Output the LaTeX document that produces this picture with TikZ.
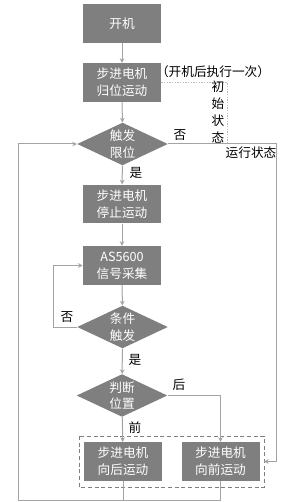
\documentclass[tikz,border=0pt]{standalone}
\usepackage{fontspec}
\setmainfont{Noto Sans CJK SC}
\usetikzlibrary{shapes.geometric,arrows.meta}
\definecolor{boxgray}{RGB}{127,127,127}
\definecolor{linegray}{RGB}{163,163,163}
\definecolor{dotgray}{RGB}{190,190,190}
\tikzset{
  stepbox/.style={rectangle, fill=boxgray, text=white, minimum width=58.5pt, minimum height=29pt,
    inner sep=0pt, align=center, font=\fontsize{9.5}{12.5}\selectfont},
  decide/.style={diamond, fill=boxgray, text=white, minimum width=68pt, minimum height=32pt,
    aspect=2.1, inner sep=0pt, align=center, font=\fontsize{9.5}{12.5}\selectfont},
  flow/.style={draw=linegray, line width=0.75pt, -{Stealth[length=3.5pt,width=3.5pt]}},
  plain/.style={draw=linegray, line width=0.75pt},
  note/.style={inner sep=0.75pt, font=\fontsize{9.5}{12.75}\selectfont, align=center}
}
\begin{document}
\begin{tikzpicture}[x=0.75pt,y=0.75pt,yscale=-1,xscale=1]
  \useasboundingbox (0,0) rectangle (294,502);
  % main column
  \node [stepbox] (start) at (122,23.5) {开机};
  \node [stepbox] (home) at (122,82.5) {步进电机\\归位运动};
  \node [decide] (limit) at (122.5,144) {触发\\限位};
  \node [stepbox] (stop) at (122,204) {步进电机\\停止运动};
  \node [stepbox] (sample) at (122,265.5) {AS5600\\信号采集};
  \node [decide] (cond) at (122.5,327) {条件\\触发};
  \node [decide] (pos) at (122,395.5) {判断\\位置};
  \node [stepbox] (back) at (123,461.5) {步进电机\\向后运动};
  \node [stepbox] (fwd) at (220.5,461.5) {步进电机\\向前运动};
  % dashed group
  \draw [boxgray, line width=0.75pt, dash pattern={on 3pt off 2pt}] (79,436) rectangle (264,487);
  \coordinate (grp) at (264,461.5);
  % bend points
  \coordinate (ca) at (53,327);
  \coordinate (cb) at (53,265.5);
  \coordinate (pa) at (220.5,395.5);
  \coordinate (ba) at (123,500);
  \coordinate (fa) at (220.5,500);
  \coordinate (la) at (18,500);
  \coordinate (lb) at (18,144);
  \coordinate (ra) at (276,144);
  \coordinate (rb) at (276,461.5);
  \coordinate (ha) at (227,82.5);
  \coordinate (hb) at (227,144);
  % connectors
  \draw [flow] (start) -- (home);
  \draw [flow] (home) -- (limit);
  \draw [flow] (limit) -- (stop);
  \draw [flow] (stop) -- (sample);
  \draw [flow] (sample) -- (cond);
  \draw [flow] (cond) -- (pos);
  \draw [flow] (pos) -- (back);
  \draw [flow] (pos.east) -- (pa) -- (fwd);
  \draw [flow] (cond.west) -- (ca) -- (cb) -- (sample.west);
  \draw [plain] (back.south) -- (ba);
  \draw [plain] (fwd.south) -- (fa) -- (la);
  \draw [flow] (la) -- (lb) -- (limit.west);
  \draw [flow] (limit.east) -- (ra) -- (rb) -- (grp);
  \draw [dotgray, line width=0.75pt, dash pattern={on 1pt off 1pt}] (home.east) -- (ha) -- (hb);
  % labels
  \node [note] (yes1) at (136,173) {是};
  \node [note] (no1) at (180,135) {否};
  \node [note] (run) at (251,152.5) {运行状态};
  \node [note] (once) at (213,71.5) {（开机后执行一次）};
  \node [note] (init) at (218,112) {初\\始\\状\\态};
  \node [note] (no2) at (67,317) {否};
  \node [note] (yes2) at (135,360) {是};
  \node [note] (rear) at (179,385) {后};
  \node [note] (front) at (135,428) {前};
\end{tikzpicture}
\end{document}
